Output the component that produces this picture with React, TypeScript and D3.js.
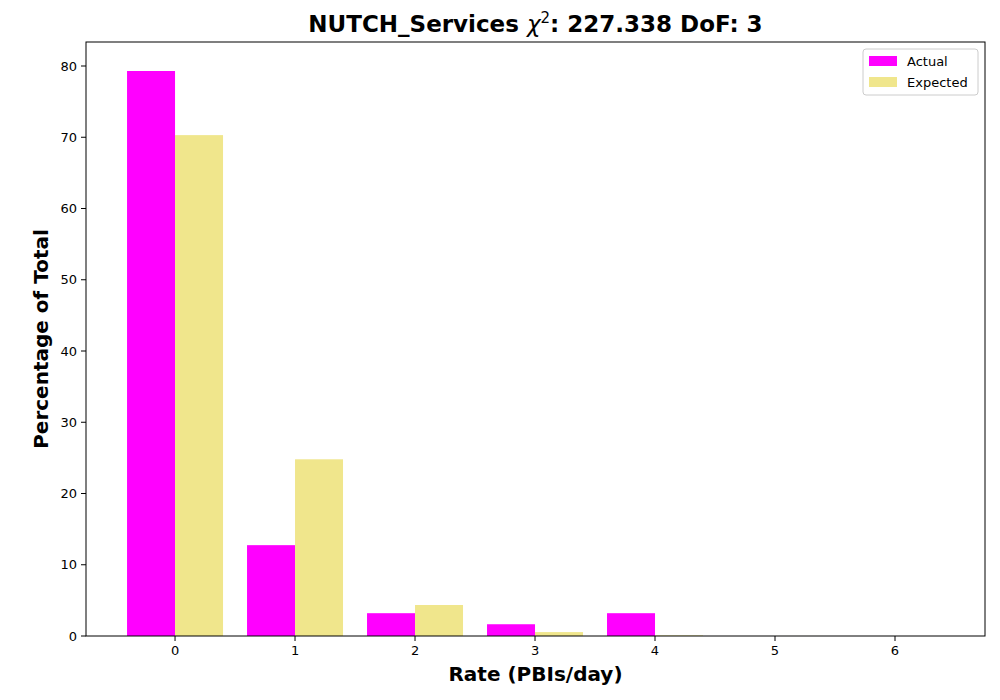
import * as d3 from "d3";

const rates = [0, 1, 2, 3, 4, 5, 6];
const actual = [79.3, 12.75, 3.2, 1.65, 3.2, 0, 0];
const expected = [70.3, 24.8, 4.35, 0.55, 0.08, 0.005, 0];
const yTicks = [0, 10, 20, 30, 40, 50, 60, 70, 80];

const W = 1000;
const H = 700;
const M = { top: 42, right: 15, bottom: 64, left: 86 };

const App = () => {
  const x = d3.scaleLinear().domain([-0.742, 6.75]).range([M.left, W - M.right]);
  const y = d3.scaleLinear().domain([0, 83.37]).range([H - M.bottom, M.top]);
  const bw = x(0.4) - x(0);
  const font = "DejaVu Sans, sans-serif";

  return (
    <svg width={W} height={H} style={{ position: "absolute", left: 0, top: 0, background: "#fff" }} fontFamily={font}>
      {rates.map((r, i) => (
        <g key={r}>
          <rect x={x(r - 0.4)} y={y(actual[i])} width={bw} height={y(0) - y(actual[i])} fill="#ff00ff" />
          <rect x={x(r)} y={y(expected[i])} width={bw} height={y(0) - y(expected[i])} fill="#f0e68c" />
        </g>
      ))}
      <rect x={M.left} y={M.top} width={W - M.left - M.right} height={H - M.top - M.bottom} fill="none" stroke="#000" />
      {rates.map((r) => (
        <g key={r} transform={`translate(${x(r)},${H - M.bottom})`}>
          <line y2={5} stroke="#000" />
          <text y={19} textAnchor="middle" fontSize={13}>{r}</text>
        </g>
      ))}
      {yTicks.map((t) => (
        <g key={t} transform={`translate(${M.left},${y(t)})`}>
          <line x2={-5} stroke="#000" />
          <text x={-9} dy="0.35em" textAnchor="end" fontSize={13}>{t}</text>
        </g>
      ))}
      <text x={(M.left + W - M.right) / 2} y={681} textAnchor="middle" fontSize={20} fontWeight="bold">Rate (PBIs/day)</text>
      <text transform={`translate(48,${(M.top + H - M.bottom) / 2}) rotate(-90)`} textAnchor="middle" fontSize={20} fontWeight="bold">Percentage of Total</text>
      <text x={(M.left + W - M.right) / 2} y={32} textAnchor="middle" fontSize={23} fontWeight="bold">
        NUTCH_Services <tspan fontStyle="italic" fontWeight="normal">χ</tspan><tspan dy={-9} fontSize={15} fontWeight="normal">2</tspan><tspan dy={9}>: 227.338 DoF: 3</tspan>
      </text>
      <g transform="translate(863,49)">
        <rect width={115} height={46} rx={3} fill="#fff" stroke="#ccc" />
        <rect x={6} y={7} width={28} height={10} fill="#ff00ff" />
        <text x={44} y={17} fontSize={13}>Actual</text>
        <rect x={6} y={28} width={28} height={10} fill="#f0e68c" />
        <text x={44} y={38} fontSize={13}>Expected</text>
      </g>
    </svg>
  );
};

export default App;
